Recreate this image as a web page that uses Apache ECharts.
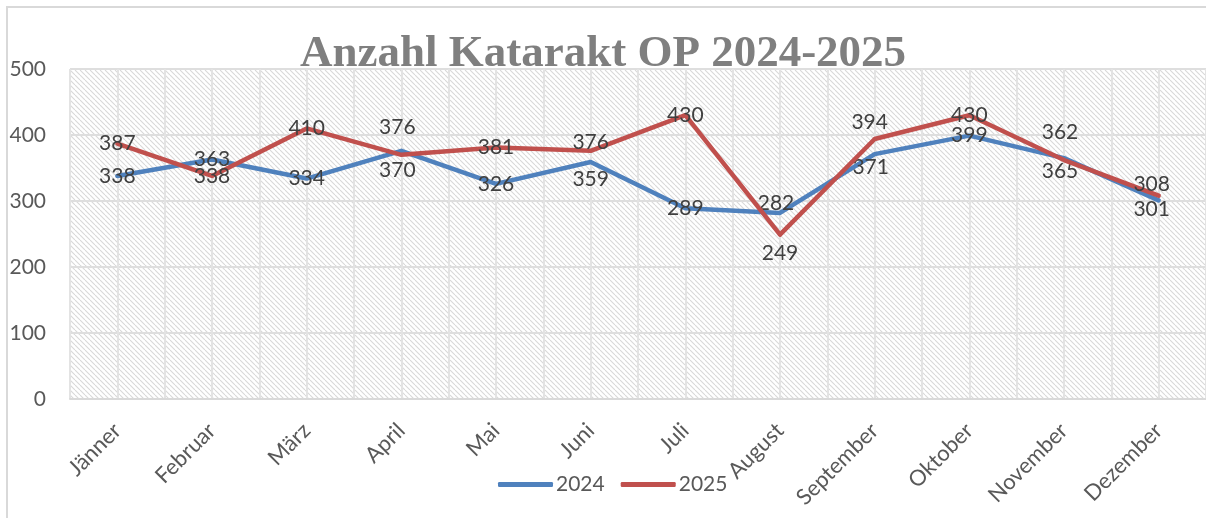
<!DOCTYPE html>
<html>
<head>
<meta charset="utf-8">
<script src="https://cdn.jsdelivr.net/npm/echarts@6/dist/echarts.min.js"></script>
<style>
  html, body { margin: 0; padding: 0; background: #ffffff; }
  #chart { position: absolute; left: 0; top: 0; width: 1206px; height: 518px; }
  #frame { position: absolute; left: 6px; top: 6px; width: 1220px; height: 530px;
           border-left: 2px solid #d9d9d9; border-top: 2px solid #d9d9d9; pointer-events: none; }
</style>
</head>
<body>
<div id="chart"></div>
<div id="frame"></div>
<script>
const months = ['Jänner', 'Februar', 'März', 'April', 'Mai', 'Juni', 'Juli', 'August', 'September', 'Oktober', 'November', 'Dezember'];
const ops2024 = [338, 363, 334, 376, 326, 359, 289, 282, 371, 399, 365, 301];
const ops2025 = [387, 338, 410, 370, 381, 376, 430, 249, 394, 430, 362, 308];
const yTicks = [0, 100, 200, 300, 400, 500];

// label nudges (dx, dy) like the hand-moved labels in the original
const nudge2024 = [[0, 0], [0, 0], [0, 0], [-4, -24], [0, 0], [0, 17], [0, 0], [-4, -10], [-4, 13], [0, 0], [-4, 13], [-7, 9]];
const nudge2025 = [[0, 0], [0, 0], [0, 0], [-4, 15], [0, 0], [0, -9], [0, 0], [0, 19], [-5, -17], [0, 0], [-4, -28], [-7, -11]];

// diagonal hatch for the plot area
const hatch = document.createElement('canvas');
const n = 5;
hatch.width = n;
hatch.height = n;
const hc = hatch.getContext('2d');
hc.fillStyle = '#ffffff';
hc.fillRect(0, 0, n, n);
hc.strokeStyle = '#d8d8d8';
hc.lineWidth = 1.1;
for (const k of [-n, 0, n]) {
    hc.beginPath();
    hc.moveTo(k, 0);
    hc.lineTo(k + n, n);
    hc.stroke();
}

const chart = echarts.init(document.getElementById('chart'));

const labelFont = 'Lato';

function makeSeries(name, values, nudges, color) {
    return {
        name: name,
        type: 'line',
        xAxisIndex: 0,
        yAxisIndex: 0,
        showSymbol: true,
        symbol: 'circle',
        symbolSize: 0,
        lineStyle: { color: color, width: 4.5, cap: 'round', join: 'round' },
        itemStyle: { color: color },
        data: values.map((v, i) => ({
            value: v,
            label: { offset: nudges[i] }
        })),
        label: {
            show: true,
            position: 'inside',
            fontFamily: labelFont,
            fontSize: 21,
            color: '#404040'
        },
        emphasis: { disabled: true },
        z: name === '2025' ? 3 : 2
    };
}

const option = {
    animation: false,
    backgroundColor: '#ffffff',
    title: {
        text: 'Anzahl Katarakt OP 2024-2025',
        left: 'center',
        top: 27,
        textStyle: {
            fontFamily: 'Liberation Serif',
            fontWeight: 'bold',
            fontSize: 45,
            color: '#7f7f7f'
        }
    },
    legend: {
        data: ['2024', '2025'],
        left: 493,
        top: 469,
        icon: 'roundRect',
        itemWidth: 55,
        itemHeight: 5,
        itemGap: 16,
        textStyle: { fontFamily: labelFont, fontSize: 21, color: '#595959', padding: [0, 0, 0, -2] }
    },
    grid: {
        left: 70,
        top: 69,
        width: 1140,
        height: 330,
        show: true,
        borderWidth: 0,
        backgroundColor: { image: hatch, repeat: 'repeat' }
    },
    xAxis: [
        {
            type: 'category',
            data: months,
            boundaryGap: true,
            axisLine: { show: true, lineStyle: { color: '#d9d9d9', width: 2 } },
            axisTick: { show: false },
            splitLine: { show: false },
            axisLabel: {
                rotate: 45,
                interval: 0,
                margin: 28,
                fontFamily: labelFont,
                fontSize: 22,
                color: '#595959'
            }
        },
        {
            type: 'value',
            min: 0,
            max: 24,
            interval: 1,
            position: 'bottom',
            axisLine: { show: false },
            axisTick: { show: false },
            axisLabel: { show: false },
            splitLine: { show: true, lineStyle: { color: '#e3e3e3', width: 2 } }
        }
    ],
    yAxis: {
        type: 'value',
        min: yTicks[0],
        max: yTicks[yTicks.length - 1],
        interval: 100,
        axisLine: { show: false },
        axisTick: { show: false },
        axisLabel: {
            margin: 24,
            fontFamily: labelFont,
            fontSize: 21,
            color: '#595959'
        },
        splitLine: { show: true, lineStyle: { color: '#dedede', width: 2 } }
    },
    series: [
        makeSeries('2024', ops2024, nudge2024, '#4f81bd'),
        makeSeries('2025', ops2025, nudge2025, '#c0504d')
    ]
};

chart.setOption(option);
</script>
</body>
</html>
